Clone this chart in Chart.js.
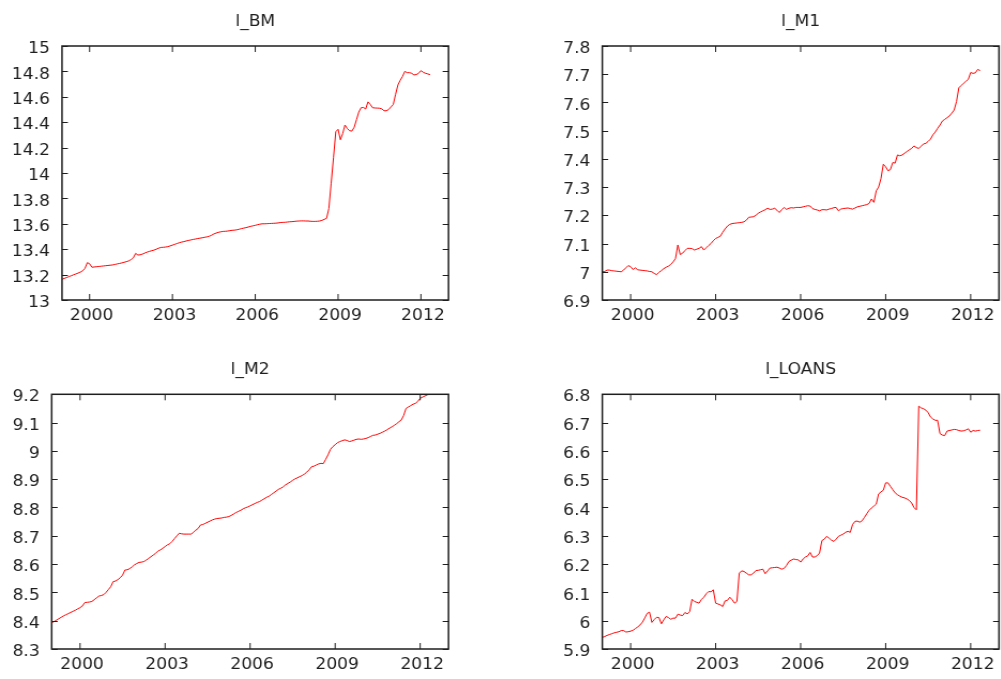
<!DOCTYPE html>
<html><head><meta charset="utf-8">
<script src="https://cdn.jsdelivr.net/npm/chart.js@4.4.1/dist/chart.umd.min.js"></script>
<style>
html,body{margin:0;padding:0;background:#fff;width:1001px;height:679px;overflow:hidden;position:relative}
.panel{position:absolute;transform-origin:0 0}
canvas{display:block}
</style></head><body>
<div class="panel" id="p1" style="left:0;top:0"><canvas id="c1"></canvas></div>
<div class="panel" id="p2" style="left:500px;top:0"><canvas id="c2"></canvas></div>
<div class="panel" id="p3" style="left:0;top:340px"><canvas id="c3"></canvas></div>
<div class="panel" id="p4" style="left:500px;top:340px"><canvas id="c4"></canvas></div>
<script>
// monthly data, 1999:01 - 2012:05
const startYear = 1999;
const xTicks = [2000, 2003, 2006, 2009, 2012];
const xRange = [1999, 2013];

const titles = ['l_BM', 'l_M1', 'l_M2', 'l_LOANS'];

const bmTicks = [13, 13.2, 13.4, 13.6, 13.8, 14, 14.2, 14.4, 14.6, 14.8, 15];
const m1Ticks = [6.9, 7, 7.1, 7.2, 7.3, 7.4, 7.5, 7.6, 7.7, 7.8];
const m2Ticks = [8.3, 8.4, 8.5, 8.6, 8.7, 8.8, 8.9, 9, 9.1, 9.2];
const loansTicks = [5.9, 6, 6.1, 6.2, 6.3, 6.4, 6.5, 6.6, 6.7, 6.8];

const l_BM = [
  13.163, 13.170, 13.177, 13.184, 13.191, 13.198, 13.205, 13.212, 13.220, 13.230, 13.250, 13.294,
  13.285, 13.258, 13.260, 13.262, 13.264, 13.266, 13.268, 13.270, 13.272, 13.274, 13.276, 13.280,
  13.284, 13.288, 13.292, 13.297, 13.302, 13.308, 13.318, 13.332, 13.367, 13.354, 13.356, 13.362,
  13.370, 13.377, 13.383, 13.388, 13.393, 13.400, 13.408, 13.414, 13.415, 13.417, 13.420, 13.426,
  13.432, 13.438, 13.445, 13.451, 13.456, 13.460, 13.465, 13.469, 13.473, 13.477, 13.480, 13.484,
  13.487, 13.490, 13.494, 13.497, 13.502, 13.510, 13.520, 13.527, 13.533, 13.537, 13.540, 13.541,
  13.543, 13.546, 13.549, 13.550, 13.553, 13.557, 13.562, 13.566, 13.570, 13.575, 13.580, 13.584,
  13.588, 13.593, 13.597, 13.600, 13.600, 13.601, 13.602, 13.603, 13.604, 13.605, 13.607, 13.610,
  13.611, 13.612, 13.614, 13.616, 13.617, 13.619, 13.621, 13.622, 13.623, 13.623, 13.622, 13.622,
  13.620, 13.619, 13.619, 13.620, 13.622, 13.627, 13.635, 13.643, 13.720, 13.920, 14.120, 14.325,
  14.344, 14.262, 14.310, 14.378, 14.350, 14.333, 14.330, 14.360, 14.420, 14.480, 14.514, 14.516,
  14.504, 14.560, 14.540, 14.514, 14.512, 14.511, 14.510, 14.505, 14.490, 14.490, 14.500, 14.520,
  14.540, 14.620, 14.693, 14.730, 14.760, 14.800, 14.790, 14.790, 14.785, 14.772, 14.775, 14.785,
  14.806, 14.793, 14.785, 14.780, 14.774
];

const l_M1 = [
  7.000, 7.001, 7.006, 7.006, 7.004, 7.003, 7.002, 7.001, 7.000, 7.006, 7.014, 7.022,
  7.018, 7.008, 7.014, 7.007, 7.006, 7.005, 7.004, 7.003, 7.001, 7.000, 6.994, 6.990,
  6.998, 7.004, 7.011, 7.016, 7.020, 7.026, 7.035, 7.047, 7.095, 7.061, 7.066, 7.075,
  7.083, 7.083, 7.082, 7.077, 7.080, 7.083, 7.089, 7.077, 7.085, 7.093, 7.100, 7.110,
  7.118, 7.122, 7.126, 7.140, 7.152, 7.162, 7.168, 7.171, 7.172, 7.173, 7.174, 7.175,
  7.177, 7.183, 7.193, 7.194, 7.195, 7.200, 7.207, 7.212, 7.216, 7.220, 7.225, 7.221,
  7.222, 7.225, 7.218, 7.210, 7.220, 7.228, 7.221, 7.225, 7.227, 7.226, 7.228, 7.228,
  7.228, 7.230, 7.232, 7.234, 7.233, 7.224, 7.221, 7.219, 7.216, 7.220, 7.220, 7.219,
  7.222, 7.224, 7.227, 7.228, 7.216, 7.222, 7.224, 7.225, 7.226, 7.224, 7.222, 7.226,
  7.230, 7.232, 7.234, 7.236, 7.238, 7.242, 7.258, 7.246, 7.287, 7.300, 7.330, 7.381,
  7.372, 7.358, 7.362, 7.387, 7.385, 7.414, 7.411, 7.414, 7.420, 7.426, 7.432, 7.437,
  7.446, 7.440, 7.437, 7.445, 7.453, 7.455, 7.462, 7.470, 7.485, 7.495, 7.508, 7.520,
  7.534, 7.540, 7.546, 7.552, 7.562, 7.573, 7.603, 7.652, 7.660, 7.668, 7.675, 7.682,
  7.706, 7.703, 7.705, 7.717, 7.713
];

const l_M2 = [
  8.393, 8.397, 8.402, 8.407, 8.412, 8.417, 8.421, 8.425, 8.429, 8.433, 8.437, 8.442,
  8.446, 8.452, 8.464, 8.465, 8.466, 8.468, 8.474, 8.481, 8.487, 8.489, 8.492, 8.500,
  8.510, 8.520, 8.538, 8.540, 8.545, 8.552, 8.561, 8.579, 8.580, 8.584, 8.590, 8.597,
  8.602, 8.606, 8.607, 8.609, 8.614, 8.620, 8.626, 8.632, 8.638, 8.646, 8.650, 8.656,
  8.662, 8.668, 8.672, 8.680, 8.690, 8.700, 8.709, 8.707, 8.706, 8.706, 8.706, 8.706,
  8.712, 8.720, 8.726, 8.738, 8.740, 8.744, 8.748, 8.752, 8.756, 8.759, 8.761, 8.762,
  8.763, 8.765, 8.766, 8.768, 8.772, 8.777, 8.782, 8.786, 8.790, 8.795, 8.799, 8.802,
  8.806, 8.810, 8.814, 8.818, 8.821, 8.826, 8.831, 8.836, 8.840, 8.846, 8.852, 8.858,
  8.864, 8.868, 8.873, 8.880, 8.885, 8.890, 8.896, 8.901, 8.905, 8.909, 8.913, 8.918,
  8.925, 8.933, 8.944, 8.946, 8.950, 8.954, 8.956, 8.955, 8.970, 8.986, 9.005, 9.015,
  9.022, 9.029, 9.033, 9.036, 9.039, 9.037, 9.033, 9.035, 9.038, 9.041, 9.042, 9.041,
  9.042, 9.044, 9.047, 9.051, 9.055, 9.056, 9.059, 9.062, 9.066, 9.070, 9.075, 9.080,
  9.085, 9.090, 9.096, 9.103, 9.109, 9.125, 9.150, 9.155, 9.160, 9.165, 9.168, 9.175,
  9.186, 9.190, 9.194, 9.198, 9.200
];

const l_LOANS = [
  5.941, 5.944, 5.948, 5.951, 5.954, 5.957, 5.959, 5.961, 5.965, 5.965, 5.960, 5.961,
  5.963, 5.966, 5.972, 5.978, 5.985, 5.995, 6.010, 6.026, 6.030, 5.994, 6.004, 6.012,
  6.011, 5.989, 6.003, 6.015, 6.011, 6.005, 6.009, 6.009, 6.023, 6.020, 6.018, 6.029,
  6.024, 6.032, 6.076, 6.068, 6.065, 6.062, 6.075, 6.083, 6.095, 6.103, 6.102, 6.109,
  6.062, 6.059, 6.056, 6.050, 6.070, 6.072, 6.083, 6.074, 6.062, 6.068, 6.168, 6.176,
  6.174, 6.168, 6.162, 6.162, 6.168, 6.177, 6.178, 6.180, 6.182, 6.166, 6.176, 6.186,
  6.187, 6.188, 6.189, 6.186, 6.182, 6.185, 6.195, 6.209, 6.214, 6.218, 6.216, 6.215,
  6.207, 6.218, 6.225, 6.229, 6.241, 6.225, 6.225, 6.230, 6.239, 6.283, 6.288, 6.298,
  6.292, 6.285, 6.280, 6.288, 6.298, 6.302, 6.306, 6.312, 6.316, 6.312, 6.340, 6.351,
  6.352, 6.348, 6.353, 6.365, 6.378, 6.390, 6.398, 6.405, 6.412, 6.448, 6.455, 6.461,
  6.487, 6.487, 6.475, 6.463, 6.452, 6.445, 6.440, 6.436, 6.434, 6.430, 6.425, 6.416,
  6.400, 6.392, 6.758, 6.752, 6.749, 6.744, 6.735, 6.720, 6.713, 6.708, 6.708, 6.661,
  6.656, 6.654, 6.670, 6.672, 6.674, 6.676, 6.675, 6.672, 6.670, 6.671, 6.674, 6.678,
  6.666, 6.672, 6.670, 6.672, 6.673
];

const FONT = 'DejaVu Sans';
const INK = '#1e1e1e';
const SX = 1.07; // horizontal stretch of the original picture

const framePlugin = {
  id: 'frame',
  afterDraw(chart, args, opts) {
    const ctx = chart.ctx, a = chart.chartArea, x = chart.scales.x, y = chart.scales.y;
    ctx.save();
    ctx.strokeStyle = INK;
    ctx.lineWidth = 1;
    ctx.beginPath();
    x.ticks.forEach(t => {
      const px = x.getPixelForValue(t.value);
      ctx.moveTo(px, a.bottom); ctx.lineTo(px, a.bottom - 6);
      ctx.moveTo(px, a.top); ctx.lineTo(px, a.top + 6);
    });
    y.ticks.forEach(t => {
      const py = Math.round(y.getPixelForValue(t.value)) + 0.5;
      ctx.moveTo(a.left, py); ctx.lineTo(a.left + 5.5, py);
      ctx.moveTo(a.right, py); ctx.lineTo(a.right - 5.5, py);
    });
    ctx.stroke();
    ctx.lineWidth = 1.5;
    ctx.strokeRect(a.left, a.top, a.right - a.left, a.bottom - a.top);
    ctx.fillStyle = INK;
    ctx.font = '16px "' + FONT + '"';
    ctx.textAlign = 'center';
    ctx.textBaseline = 'alphabetic';
    ctx.fillText(opts.text, (a.left + a.right) / 2, opts.titleY);
    ctx.restore();
  }
};

function makeChart(id, title, values, yTicks, box) {
  const canvas = document.getElementById(id);
  const W = Math.round(box.w / SX), H = box.h;
  canvas.width = W; canvas.height = H;
  canvas.style.width = W + 'px'; canvas.style.height = H + 'px';
  const wrap = canvas.parentNode;
  wrap.style.width = W + 'px'; wrap.style.height = H + 'px';
  wrap.style.transform = 'scaleX(' + SX + ')';
  const left = box.left / SX, right = box.right / SX;
  const yMin = yTicks[0], yMax = yTicks[yTicks.length - 1];
  return new Chart(canvas, {
    type: 'line',
    data: {
      datasets: [{
        data: values.map((v, i) => ({ x: startYear + i / 12, y: v })),
        borderColor: '#ff0000',
        borderWidth: 1,
        pointRadius: 0,
        tension: 0,
        fill: false
      }]
    },
    options: {
      responsive: false,
      animation: false,
      devicePixelRatio: 1,
      layout: { padding: { left: 0, right: W - right, top: box.top, bottom: 0 } },
      plugins: {
        legend: { display: false },
        tooltip: { enabled: false },
        title: { display: false },
        frame: { text: title, titleY: box.titleY }
      },
      scales: {
        x: {
          type: 'linear',
          min: xRange[0], max: xRange[1],
          afterBuildTicks: s => { s.ticks = xTicks.map(v => ({ value: v })); },
          afterFit: s => { s.height = H - box.bottom; },
          grid: { display: true, drawOnChartArea: false, drawTicks: false, color: 'rgba(0,0,0,0)' },
          border: { display: false },
          ticks: { color: INK, font: { family: FONT, size: 16 }, padding: 6, maxRotation: 0,
                   labelOffset: 2 / SX, callback: v => String(v) }
        },
        y: {
          type: 'linear',
          min: yMin, max: yMax,
          afterBuildTicks: s => { s.ticks = yTicks.map(v => ({ value: v })); },
          afterFit: s => { s.width = left; },
          grid: { display: true, drawOnChartArea: false, drawTicks: false, color: 'rgba(0,0,0,0)' },
          border: { display: false },
          ticks: { color: INK, font: { family: FONT, size: 16 }, padding: 12 / SX, labelOffset: 3,
                   callback: v => String(Number(v.toFixed(2))) }
        }
      }
    },
    plugins: [framePlugin]
  });
}

makeChart('c1', titles[0], l_BM, bmTicks, { w: 500, h: 340, left: 62, right: 448.5, top: 46, bottom: 300, titleY: 26 });
makeChart('c2', titles[1], l_M1, m1Ticks, { w: 501, h: 340, left: 102.3, right: 499, top: 46, bottom: 300, titleY: 26 });
makeChart('c3', titles[2], l_M2, m2Ticks, { w: 500, h: 339, left: 51.7, right: 448.5, top: 54.3, bottom: 309, titleY: 33.5 });
makeChart('c4', titles[3], l_LOANS, loansTicks, { w: 501, h: 339, left: 102.3, right: 499, top: 54.3, bottom: 309, titleY: 33.5 });
</script>
</body></html>
